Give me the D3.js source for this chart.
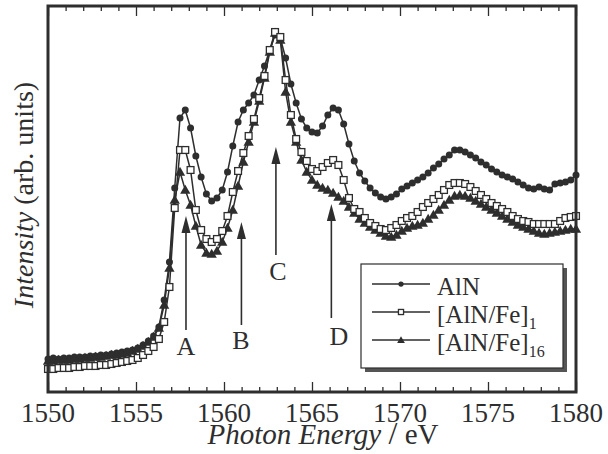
<!DOCTYPE html>
<html>
<head>
<meta charset="utf-8">
<script src="https://cdn.jsdelivr.net/npm/d3@7"></script>
<style>
  html, body { margin: 0; padding: 0; background: #fff; }
  svg text { font-family: "Liberation Serif", "DejaVu Serif", serif; }
</style>
</head>
<body>
<svg id="chart" width="608" height="454"></svg>
<script>
// Photon energy grid (eV)
const energy = [
  1550.0,1550.3,1550.6,1550.9,1551.2,1551.5,1551.8,1552.1,1552.4,1552.7,1553.0,
  1553.3,1553.6,1553.9,1554.2,1554.5,1554.8,1555.1,1555.4,1555.7,1556.0,
  1556.3,1556.6,1556.9,1557.2,1557.5,1557.8,1558.1,1558.4,1558.7,1559.0,
  1559.3,1559.6,1559.9,1560.2,1560.5,1560.8,1561.1,1561.4,1561.7,1562.0,
  1562.3,1562.6,1562.9,1563.2,1563.5,1563.8,1564.1,1564.4,1564.7,1565.0,
  1565.3,1565.6,1565.9,1566.2,1566.5,1566.8,1567.1,1567.4,1567.7,1568.0,
  1568.3,1568.6,1568.9,1569.2,1569.5,1569.8,1570.1,1570.4,1570.7,1571.0,
  1571.3,1571.6,1571.9,1572.2,1572.5,1572.8,1573.1,1573.4,1573.7,1574.0,
  1574.3,1574.6,1574.9,1575.2,1575.5,1575.8,1576.1,1576.4,1576.7,1577.0,
  1577.3,1577.6,1577.9,1578.2,1578.5,1578.8,1579.1,1579.4,1579.7,1580.0
];

// Al K-edge absorption intensity (arb. units)
const intensityAlN = [
  0.41,0.42,0.41,0.42,0.42,0.43,0.43,0.43,0.44,0.44,0.45,0.45,0.46,0.47,0.48,0.49,0.50,0.52,0.55,0.59,0.64,
  0.73,1.00,1.38,2.12,2.82,2.90,2.72,2.44,2.23,2.06,
  1.99,2.02,2.10,2.28,2.54,2.78,2.90,2.97,3.05,3.20,
  3.34,3.50,3.65,3.62,3.42,3.16,2.97,2.81,2.72,2.68,
  2.67,2.74,2.85,2.92,2.90,2.76,2.56,2.39,2.27,2.19,
  2.12,2.07,2.03,2.01,2.03,2.06,2.11,2.14,2.17,2.20,
  2.23,2.27,2.32,2.36,2.41,2.45,2.50,2.50,2.48,2.45,
  2.42,2.38,2.35,2.31,2.28,2.25,2.23,2.21,2.18,2.15,
  2.12,2.11,2.13,2.11,2.10,2.16,2.17,2.18,2.20,2.25
];
const intensityAlNFe1 = [
  0.31,0.31,0.32,0.32,0.32,0.33,0.33,0.34,0.34,0.34,0.35,0.35,0.36,0.37,0.38,0.39,0.40,0.42,0.45,0.49,0.53,
  0.61,0.78,1.13,1.92,2.50,2.50,2.30,1.90,1.70,1.61,
  1.58,1.61,1.69,1.84,2.08,2.29,2.47,2.64,2.81,3.02,
  3.24,3.50,3.68,3.63,3.20,2.85,2.61,2.48,2.39,2.31,
  2.29,2.33,2.37,2.40,2.35,2.20,2.02,1.91,1.88,1.82,
  1.77,1.74,1.71,1.70,1.72,1.75,1.79,1.82,1.84,1.88,
  1.93,1.97,2.01,2.05,2.10,2.15,2.17,2.17,2.16,2.13,
  2.09,2.05,2.01,1.97,1.94,1.91,1.88,1.84,1.81,1.79,
  1.78,1.76,1.76,1.76,1.76,1.76,1.79,1.82,1.83,1.84
];
const intensityAlNFe16 = [
  0.39,0.39,0.40,0.40,0.40,0.41,0.41,0.42,0.42,0.43,0.43,0.44,0.45,0.45,0.46,0.47,0.49,0.51,0.54,0.58,0.63,
  0.72,0.95,1.32,2.00,2.28,2.10,1.95,1.74,1.55,1.47,
  1.46,1.49,1.58,1.72,1.90,2.14,2.38,2.58,2.78,2.99,
  3.22,3.48,3.67,3.60,3.08,2.78,2.58,2.40,2.28,2.20,
  2.15,2.12,2.10,2.07,2.03,1.99,1.93,1.87,1.81,1.77,
  1.73,1.70,1.67,1.64,1.63,1.65,1.69,1.72,1.74,1.75,
  1.77,1.81,1.85,1.90,1.95,2.00,2.04,2.05,2.04,2.02,
  1.99,1.96,1.93,1.90,1.87,1.84,1.81,1.78,1.75,1.73,
  1.71,1.69,1.67,1.66,1.67,1.68,1.69,1.70,1.71,1.71
];

const xTickValues = [1550, 1555, 1560, 1565, 1570, 1575, 1580];

// Feature arrows: label, energy, arrow tip and tail intensity
const featureLabels = ["A", "B", "C", "D"];
const featureEnergy = [1557.84, 1560.99, 1562.95, 1566.1];
const featureTip = [1.84, 1.78, 2.53, 1.96];
const featureTail = [0.70, 0.75, 1.45, 0.82];

const svg = d3.select("#chart");
const ink = "#2e2e2e";
const serif = "'Liberation Serif', 'DejaVu Serif', serif";

const plot = { left: 48, right: 576, top: 6, bottom: 392 };
const x = d3.scaleLinear().domain([1550, 1580]).range([plot.left, plot.right]);
const y = d3.scaleLinear().domain([0.08, 3.94]).range([plot.bottom, plot.top]);

// axes: inward ticks on bottom and top, labels only on bottom
const minorTicks = d3.range(1550, 1581, 1);
const bottomAxis = d3.axisBottom(x).tickValues(minorTicks)
  .tickSizeInner(-5).tickSizeOuter(0).tickFormat("");
const topAxis = d3.axisTop(x).tickValues(minorTicks)
  .tickSizeInner(-5).tickSizeOuter(0).tickFormat("");

function styleAxis(g) {
  g.select(".domain").remove();
  g.selectAll(".tick line").attr("stroke", ink).attr("stroke-width", 1.3);
  g.selectAll(".tick").filter(d => d % 5 === 0).select("line")
    .attr("y2", function () { return +d3.select(this).attr("y2") * 2; });
}
svg.append("g").attr("transform", `translate(0,${plot.bottom})`).call(bottomAxis).call(styleAxis);
svg.append("g").attr("transform", `translate(0,${plot.top})`).call(topAxis).call(styleAxis);

svg.append("g")
  .selectAll("text").data(xTickValues).join("text")
  .attr("x", d => x(d)).attr("y", 422)
  .attr("text-anchor", "middle")
  .attr("font-family", serif)
  .attr("font-size", 27).attr("fill", ink)
  .text(d => d);

// series
const series = [
  { name: "AlN", values: intensityAlN, marker: "circle" },
  { name: "[AlN/Fe]16", values: intensityAlNFe16, marker: "triangle" },
  { name: "[AlN/Fe]1", values: intensityAlNFe1, marker: "square" }
];

const line = d3.line().x((d, i) => x(energy[i])).y(d => y(d));

function drawMarker(g, type, cx, cy, scale) {
  const s = scale || 1;
  if (type === "circle") {
    g.append("circle").attr("cx", cx).attr("cy", cy).attr("r", 3.5 * s).attr("fill", ink);
  } else if (type === "square") {
    g.append("rect").attr("x", cx - 3.4 * s).attr("y", cy - 3.4 * s)
      .attr("width", 6.8 * s).attr("height", 6.8 * s)
      .attr("fill", "#fff").attr("stroke", ink).attr("stroke-width", 1.3);
  } else {
    g.append("path").attr("d", d3.symbol().type(d3.symbolTriangle).size(46 * s * s)())
      .attr("transform", `translate(${cx},${cy + 0.8})`).attr("fill", ink);
  }
}

const plotArea = svg.append("g");
series.forEach(s => {
  const g = plotArea.append("g");
  g.append("path").datum(s.values).attr("d", line)
    .attr("fill", "none").attr("stroke", ink).attr("stroke-width", 1.5);
  s.values.forEach((v, i) => drawMarker(g, s.marker, x(energy[i]), y(v)));
});

// frame
svg.append("rect")
  .attr("x", plot.left).attr("y", plot.top)
  .attr("width", plot.right - plot.left).attr("height", plot.bottom - plot.top)
  .attr("fill", "none").attr("stroke", ink).attr("stroke-width", 3);

// feature arrows with labels
const labelX = [186, 241, 278, 339];
const labelY = [355, 349, 280, 345];
featureLabels.forEach((lab, i) => {
  const ax = x(featureEnergy[i]);
  const tip = y(featureTip[i]);
  const tail = y(featureTail[i]);
  svg.append("line").attr("x1", ax).attr("x2", ax).attr("y1", tip + 10).attr("y2", tail)
    .attr("stroke", ink).attr("stroke-width", 1.6);
  svg.append("path")
    .attr("d", `M${ax},${tip} L${ax - 4.5},${tip + 17} L${ax + 4.5},${tip + 17} Z`)
    .attr("fill", ink);
  svg.append("text").attr("x", labelX[i]).attr("y", labelY[i])
    .attr("text-anchor", "middle").attr("font-family", serif)
    .attr("font-size", 26).attr("fill", ink).text(lab);
});

// legend
const legend = svg.append("g");
legend.append("rect").attr("x", 365).attr("y", 268).attr("width", 202).attr("height", 104)
  .attr("fill", "#555");
legend.append("rect").attr("x", 361).attr("y", 264).attr("width", 202).attr("height", 104)
  .attr("fill", "#fff").attr("stroke", ink).attr("stroke-width", 1.2);

const legendItems = [
  { main: "AlN", sub: "", marker: "circle" },
  { main: "[AlN/Fe]", sub: "1", marker: "square" },
  { main: "[AlN/Fe]", sub: "16", marker: "triangle" }
];
legendItems.forEach((item, i) => {
  const ry = 284 + i * 28;
  legend.append("line").attr("x1", 372).attr("x2", 430).attr("y1", ry).attr("y2", ry)
    .attr("stroke", ink).attr("stroke-width", 1.3);
  drawMarker(legend, item.marker, 401, ry, 0.75);
  const t = legend.append("text").attr("x", 437).attr("y", ry + 11)
    .attr("font-family", serif).attr("font-size", 25).attr("fill", ink);
  t.append("tspan").text(item.main);
  if (item.sub) {
    t.append("tspan").attr("font-size", 16).attr("dy", 6).text(item.sub);
  }
});

// axis titles
const xTitle = svg.append("text").attr("x", 323).attr("y", 444)
  .attr("text-anchor", "middle").attr("font-family", serif)
  .attr("font-size", 29).attr("fill", ink);
xTitle.append("tspan").attr("font-style", "italic").text("Photon Energy ");
xTitle.append("tspan").attr("font-size", 32).text("/");
xTitle.append("tspan").text(" eV");

const yTitle = svg.append("text")
  .attr("transform", "translate(33,195) rotate(-90)")
  .attr("text-anchor", "middle").attr("font-family", serif)
  .attr("font-size", 28).attr("fill", ink);
yTitle.append("tspan").attr("font-style", "italic").text("Intensity");
yTitle.append("tspan").text(" (arb. units)");
</script>
</body>
</html>
